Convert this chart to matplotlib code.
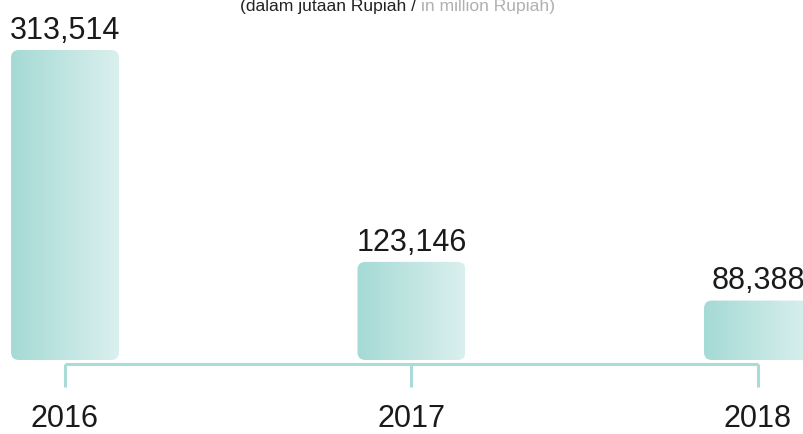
import matplotlib
matplotlib.use("Agg")
import matplotlib.pyplot as plt
import numpy as np
from matplotlib.patches import FancyBboxPatch
from matplotlib.colors import LinearSegmentedColormap

# data
years = ["2016", "2017", "2018"]
values = [313514, 123146, 88388]
value_labels = ["313,514", "123,146", "88,388"]
title_dark = "(dalam jutaan Rupiah / "
title_light = "in million Rupiah)"

FONT = ["Liberation Sans Narrow", "Liberation Sans", "DejaVu Sans"]
plt.rcParams["font.family"] = FONT

W, H = 804, 434
fig = plt.figure(figsize=(W / 100, H / 100), dpi=100)
ax = fig.add_axes([0, 0, 1, 1])
ax.set_axis_off()

# layout in pixels
x_step = 346.5           # px between category centres
first_x = 65             # px of first centre
bar_w = 108 / x_step     # data units
floor = 35000            # value axis starts here
base_px = 74             # bar base above figure bottom
px = (values[0] - floor) / 310.0   # value units per pixel

xs = np.arange(len(years))

cmap = LinearSegmentedColormap.from_list("bar", ["#a5dad5", "#daf0ee"])
grad = np.linspace(0, 1, 256).reshape(1, -1)
r = 8  # rounding radius in px

for x, v, lab in zip(xs, values, value_labels):
    x0 = x - bar_w / 2
    patch = FancyBboxPatch((x0, floor), bar_w, v - floor,
                           boxstyle=f"round,pad=0,rounding_size={r / x_step}",
                           mutation_aspect=px * x_step,
                           facecolor="none", edgecolor="none")
    ax.add_patch(patch)
    im = ax.imshow(grad, cmap=cmap, aspect="auto",
                   extent=(x0, x0 + bar_w, floor, v), zorder=2)
    im.set_clip_path(patch)
    ax.annotate(lab, (x, v), xytext=(0, 3), textcoords="offset points",
                ha="center", va="bottom", fontsize=22, color="#1a1a1a")
    ax.text(x, floor - 59 * px, str(years[x]), ha="center", va="center",
            fontsize=22, color="#1a1a1a")

# bracket axis
line_c = "#a8dcd8"
y_line = floor - 3.5 * px
ax.plot([xs[0], xs[-1]], [y_line, y_line], color=line_c, lw=2.2,
        solid_capstyle="butt", zorder=1)
for x in xs:
    ax.plot([x, x], [y_line, floor - 27 * px], color=line_c, lw=2.2,
            solid_capstyle="butt", zorder=1)

ax.set_xlim(-first_x / x_step, -first_x / x_step + W / x_step)
ax.set_ylim(floor - base_px * px, floor + (H - base_px) * px)

# title (top partly cut off, as in the source)
t1 = fig.text(240 / W, (H - 11) / H, title_dark, ha="left", va="baseline",
              fontsize=12.6, color="#222222")
ax.annotate(title_light, xy=(1, 0), xycoords=t1, ha="left", va="bottom",
            fontsize=12.6, color="#b0b0b0")

fig.savefig("out.png", dpi=100)
